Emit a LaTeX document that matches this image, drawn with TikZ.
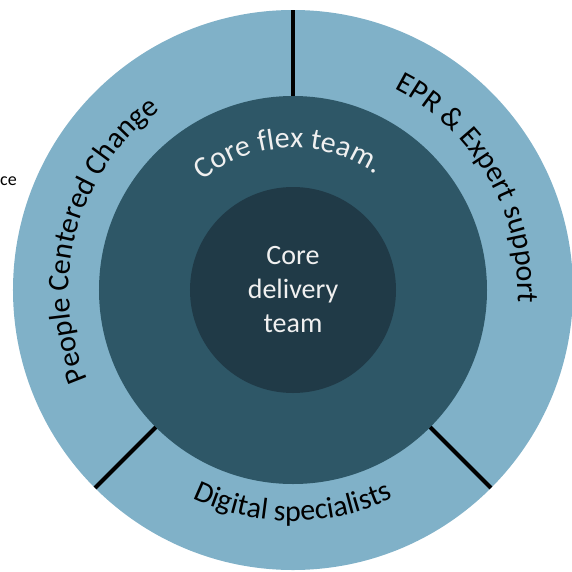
\documentclass[tikz,border=0pt]{standalone}
\usepackage{fontspec}
\setmainfont{Carlito}
\usepackage{xcolor}
\usetikzlibrary{positioning}
\usetikzlibrary{decorations.text}

\definecolor{outerblue}{HTML}{80B1C8}
\definecolor{flexteal}{HTML}{2E5767}
\definecolor{coreteal}{HTML}{203A47}

\tikzset{
  ring/.style={circle, inner sep=0pt, outer sep=0pt},
  divider/.style={line width=4pt, black}
}

\begin{document}
\begin{tikzpicture}[x=1pt,y=1pt]
\useasboundingbox (-293,-281) rectangle (279,290);

% rings
\node[ring, fill=outerblue, minimum size=560pt] (outer) at (0,0) {};
\node[ring, fill=flexteal, minimum size=388pt] (flex) at (0,0) {};
\node[ring, fill=coreteal, minimum size=206pt, text=white!94!black, align=center,
      font=\fontsize{28}{34}\selectfont] (core) at (0,0) {Core\\delivery\\team};

% dividers of the outer ring
\draw[divider] (flex.90) -- (outer.90);
\draw[divider] (flex.225) -- (outer.225);
\draw[divider] (flex.315) -- (outer.315);

% texts on the rings
\path[decorate, decoration={text along path, text align=center, text color=black,
  text={|\fontsize{30}{36}\selectfont|People Centered Change}}]
  (215:224pt) arc[start angle=215, end angle=115, radius=224pt];
\path[decorate, decoration={text along path, text align=center, text color=black,
  text={|\fontsize{30}{36}\selectfont|EPR {\&} Expert support}}]
  (80:225pt) arc[start angle=80, end angle=-20, radius=225pt];
\path[decorate, decoration={text along path, text align=center, text color=black,
  text={|\fontsize{30}{36}\selectfont|Digital specialists}}]
  (240:231pt) arc[start angle=240, end angle=300, radius=231pt];
\path[decorate, decoration={text along path, text align=center, text color=white!94!black,
  text={|\fontsize{30}{36}\selectfont|Core flex team.}}]
  (142:142pt) arc[start angle=142, end angle=42, radius=142pt];

\node[anchor=east, inner sep=0pt, font=\fontsize{18}{22}\selectfont] (cut) at (-276,109) {ce};

\end{tikzpicture}
\end{document}
